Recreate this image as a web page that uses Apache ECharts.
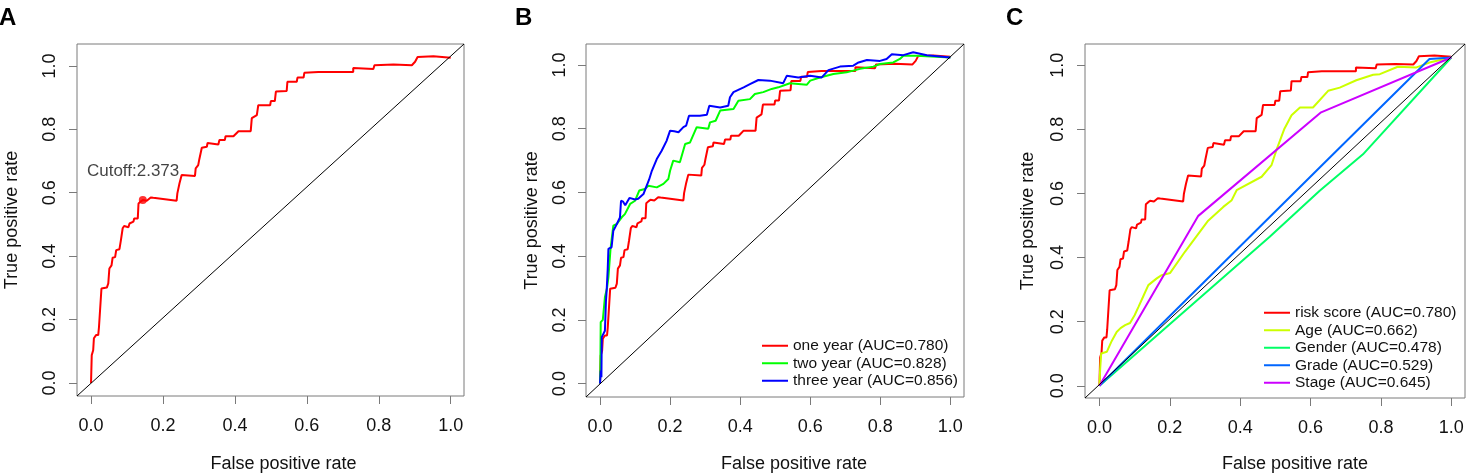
<!DOCTYPE html>
<html><head><meta charset="utf-8">
<script src="https://cdn.jsdelivr.net/npm/echarts@6/dist/echarts.min.js"></script>
<style>html,body{margin:0;padding:0;background:#fff}#c{width:1466px;height:473px}</style>
</head><body><div id="c"></div>
<script>
// ---------- data ----------
const panelLetters = ['A', 'B', 'C'];
const tickValues = [0, 0.2, 0.4, 0.6, 0.8, 1.0];
const xTitle = 'False positive rate';
const yTitle = 'True positive rate';
// axis extents (R's 4% padding around [0,1])
const xRanges = [[-0.039, 1.037], [-0.040, 1.039], [-0.041, 1.039]];
const yRanges = [[-0.041, 1.069], [-0.042, 1.066], [-0.038, 1.066]];

const riskScore = [[0,0],[0.002,0.088],[0.006,0.103],[0.008,0.141],[0.014,0.151],[0.02,0.151],[0.022,0.175],[0.027,0.177],[0.029,0.298],[0.044,0.301],[0.048,0.314],[0.051,0.361],[0.057,0.371],[0.06,0.395],[0.067,0.397],[0.07,0.419],[0.079,0.422],[0.083,0.45],[0.088,0.488],[0.092,0.495],[0.104,0.491],[0.107,0.503],[0.118,0.509],[0.12,0.519],[0.13,0.519],[0.132,0.566],[0.138,0.572],[0.144,0.577],[0.155,0.575],[0.166,0.585],[0.173,0.584],[0.238,0.575],[0.24,0.598],[0.245,0.603],[0.246,0.63],[0.252,0.656],[0.289,0.653],[0.291,0.677],[0.298,0.687],[0.301,0.705],[0.308,0.742],[0.322,0.745],[0.324,0.757],[0.354,0.752],[0.357,0.766],[0.372,0.766],[0.374,0.778],[0.396,0.778],[0.41,0.794],[0.444,0.794],[0.447,0.835],[0.461,0.845],[0.465,0.876],[0.498,0.876],[0.5,0.889],[0.511,0.889],[0.514,0.919],[0.544,0.921],[0.546,0.95],[0.572,0.95],[0.574,0.963],[0.591,0.963],[0.593,0.978],[0.632,0.981],[0.729,0.981],[0.729,0.993],[0.785,0.99],[0.788,1.002],[0.841,1.004],[0.892,1.002],[0.901,1.013],[0.908,1.028],[0.952,1.03],[1.0,1.026]];

const twoYear = [[0,0],[0.001,0.05],[0.002,0.193],[0.008,0.2],[0.014,0.271],[0.02,0.3],[0.024,0.334],[0.03,0.423],[0.034,0.46],[0.038,0.496],[0.048,0.501],[0.062,0.522],[0.071,0.532],[0.086,0.564],[0.1,0.574],[0.112,0.606],[0.128,0.611],[0.138,0.621],[0.162,0.616],[0.181,0.627],[0.195,0.642],[0.2,0.668],[0.209,0.7],[0.228,0.695],[0.243,0.752],[0.257,0.757],[0.276,0.805],[0.309,0.8],[0.314,0.82],[0.33,0.825],[0.343,0.857],[0.381,0.862],[0.395,0.888],[0.428,0.893],[0.442,0.909],[0.466,0.915],[0.49,0.925],[0.509,0.93],[0.542,0.943],[0.59,0.938],[0.6,0.951],[0.628,0.961],[0.666,0.972],[0.704,0.977],[0.742,0.988],[0.78,0.995],[0.799,1.003],[0.837,1.008],[0.856,1.019],[0.866,1.029],[0.904,1.029],[1.0,1.024]];

const threeYear = [[0,0],[0.002,0.041],[0.004,0.02],[0.005,0.146],[0.014,0.166],[0.017,0.26],[0.019,0.292],[0.022,0.36],[0.024,0.423],[0.033,0.428],[0.038,0.48],[0.048,0.501],[0.057,0.522],[0.06,0.574],[0.066,0.571],[0.072,0.56],[0.084,0.583],[0.1,0.578],[0.109,0.58],[0.124,0.595],[0.133,0.621],[0.14,0.64],[0.148,0.668],[0.162,0.705],[0.176,0.731],[0.19,0.762],[0.2,0.794],[0.212,0.792],[0.224,0.789],[0.238,0.805],[0.246,0.81],[0.254,0.841],[0.285,0.841],[0.305,0.844],[0.312,0.872],[0.343,0.867],[0.366,0.872],[0.371,0.899],[0.381,0.915],[0.41,0.93],[0.428,0.94],[0.452,0.953],[0.485,0.951],[0.523,0.943],[0.533,0.966],[0.566,0.961],[0.6,0.966],[0.633,0.961],[0.652,0.984],[0.685,0.995],[0.723,0.998],[0.738,1.008],[0.762,1.016],[0.799,1.013],[0.818,1.019],[0.833,1.034],[0.866,1.031],[0.894,1.04],[0.933,1.031],[1.0,1.024]];

const age = [[0,0],[0.002,0.05],[0.005,0.101],[0.021,0.106],[0.035,0.14],[0.049,0.168],[0.06,0.18],[0.073,0.189],[0.087,0.196],[0.1,0.22],[0.111,0.246],[0.125,0.28],[0.139,0.314],[0.163,0.335],[0.177,0.345],[0.201,0.352],[0.243,0.418],[0.309,0.515],[0.352,0.558],[0.376,0.579],[0.39,0.61],[0.461,0.652],[0.489,0.688],[0.503,0.735],[0.525,0.8],[0.546,0.844],[0.57,0.868],[0.607,0.868],[0.65,0.92],[0.683,0.93],[0.73,0.953],[0.778,0.97],[0.797,0.972],[0.848,0.995],[0.901,0.993],[0.938,1.008],[1.0,1.024]];
const gender = [[0,0],[0.484,0.465],[0.626,0.608],[0.749,0.722],[1.0,1.024]];
const grade = [[0,0],[0.626,0.681],[0.938,1.019],[1.0,1.024]];
const stage = [[0,0],[0.281,0.53],[0.63,0.853],[1.0,1.024]];

const cutoffPoint = [[0.144, 0.577]];
const cutoffLabel = 'Cutoff:2.373';

const namesB = ['one year (AUC=0.780)', 'two year (AUC=0.828)', 'three year (AUC=0.856)'];
const colorsB = ['#FF0000', '#00FF00', '#0000FF'];
const namesC = ['risk score (AUC=0.780)', 'Age (AUC=0.662)', 'Gender (AUC=0.478)', 'Grade (AUC=0.529)', 'Stage (AUC=0.645)'];
const colorsC = ['#FF0000', '#CCFF00', '#00FF66', '#0066FF', '#CC00FF'];

// ---------- chart ----------
const FONT = '"Liberation Sans", Arial, Helvetica, sans-serif';
const TXT = '#111';
const GRAY = '#7a7a7a';
const grids = [
  {left: 77, top: 44, width: 387, height: 352},
  {left: 586, top: 44, width: 378, height: 353},
  {left: 1085, top: 44, width: 380, height: 354}
];
const yNameGaps = [56, 45, 48];
const xNameGaps = [59, 58, 57];
const xNameShift = [13, 19, 20];
const yLabelMargins = [18, 17, 18];

const fmt = v => Number(v).toFixed(1);

const xAxis = [], yAxis = [];
grids.forEach((g, i) => {
  xAxis.push({
    type: 'value', gridIndex: i, min: xRanges[i][0], max: xRanges[i][1],
    axisLine: {show: false, onZero: false}, splitLine: {show: false},
    axisTick: {show: true, inside: false, length: 8, customValues: tickValues, lineStyle: {color: GRAY, width: 1}},
    axisLabel: {customValues: tickValues, formatter: fmt, margin: 21, color: TXT, fontSize: 18, fontFamily: FONT},
    name: xTitle, nameLocation: 'middle', nameGap: xNameGaps[i],
    nameTextStyle: {color: TXT, fontSize: 18, fontFamily: FONT, padding: [0, 0, 0, 2 * xNameShift[i]]}
  });
  yAxis.push({
    type: 'value', gridIndex: i, min: yRanges[i][0], max: yRanges[i][1],
    axisLine: {show: false, onZero: false}, splitLine: {show: false},
    axisTick: {show: true, inside: false, length: 8, customValues: tickValues, lineStyle: {color: GRAY, width: 1}},
    axisLabel: {customValues: tickValues, formatter: fmt, margin: yLabelMargins[i], rotate: 90, color: TXT, fontSize: 18, fontFamily: FONT},
    name: yTitle, nameLocation: 'middle', nameGap: yNameGaps[i],
    nameTextStyle: {color: TXT, fontSize: 18, fontFamily: FONT}
  });
});

function lineSeries(name, data, color, i, width) {
  return {
    type: 'line', name: name, data: data, xAxisIndex: i, yAxisIndex: i,
    showSymbol: false, symbol: 'none', color: color, animation: false, silent: true,
    lineStyle: {color: color, width: width || 2}, itemStyle: {color: color}
  };
}
function diagSeries(i) {
  return lineSeries('diag' + i, [[xRanges[i][0], yRanges[i][0]], [xRanges[i][1], yRanges[i][1]]], '#000', i, 1);
}

const series = [];
// panel A
series.push(lineSeries('riskA', riskScore, '#FF0000', 0, 2));
series.push({
  type: 'scatter', name: 'cutoff', data: cutoffPoint, xAxisIndex: 0, yAxisIndex: 0,
  symbol: 'circle', symbolSize: 8, itemStyle: {color: '#FF0000'}, animation: false, silent: true,
  label: {show: true, formatter: cutoffLabel, position: [-5.7, -25], align: 'center', verticalAlign: 'middle',
    color: TXT, fontSize: 17, fontFamily: FONT}
});
series.push(diagSeries(0));
// panel B
[riskScore, twoYear, threeYear].forEach((d, k) => series.push(lineSeries(namesB[k], d, colorsB[k], 1, 2)));
series.push(diagSeries(1));
// panel C
[riskScore, age, gender, grade, stage].forEach((d, k) => series.push(lineSeries(namesC[k], d, colorsC[k], 2, 2)));
series.push(diagSeries(2));

const legendBase = {
  orient: 'vertical', icon: 'rect', itemWidth: 26, itemHeight: 2, itemGap: 0, itemTextGap: 13,
  selectedMode: false, padding: 0,
  textStyle: {color: TXT, fontSize: 15.5, fontFamily: FONT, lineHeight: 17.5}
};

const option = {
  backgroundColor: '#fff',
  animation: false,
  grid: grids.map(g => Object.assign({show: true, borderColor: GRAY, borderWidth: 1, backgroundColor: 'transparent',
    containLabel: false, outerBoundsMode: 'none'}, g)),
  xAxis: xAxis, yAxis: yAxis,
  legend: [
    Object.assign({}, legendBase, {left: 762, top: 337, data: namesB}),
    Object.assign({}, legendBase, {left: 1264, top: 304, data: namesC})
  ],
  graphic: [
    {type: 'text', left: -1, top: 6, style: {text: panelLetters[0], font: 'bold 24px ' + FONT, fill: '#000'}},
    {type: 'text', left: 515, top: 6, style: {text: panelLetters[1], font: 'bold 24px ' + FONT, fill: '#000'}},
    {type: 'text', left: 1006, top: 6, style: {text: panelLetters[2], font: 'bold 24px ' + FONT, fill: '#000'}}
  ],
  series: series
};

const chart = echarts.init(document.getElementById('c'), null, {renderer: 'canvas'});
chart.setOption(option);
</script></body></html>
